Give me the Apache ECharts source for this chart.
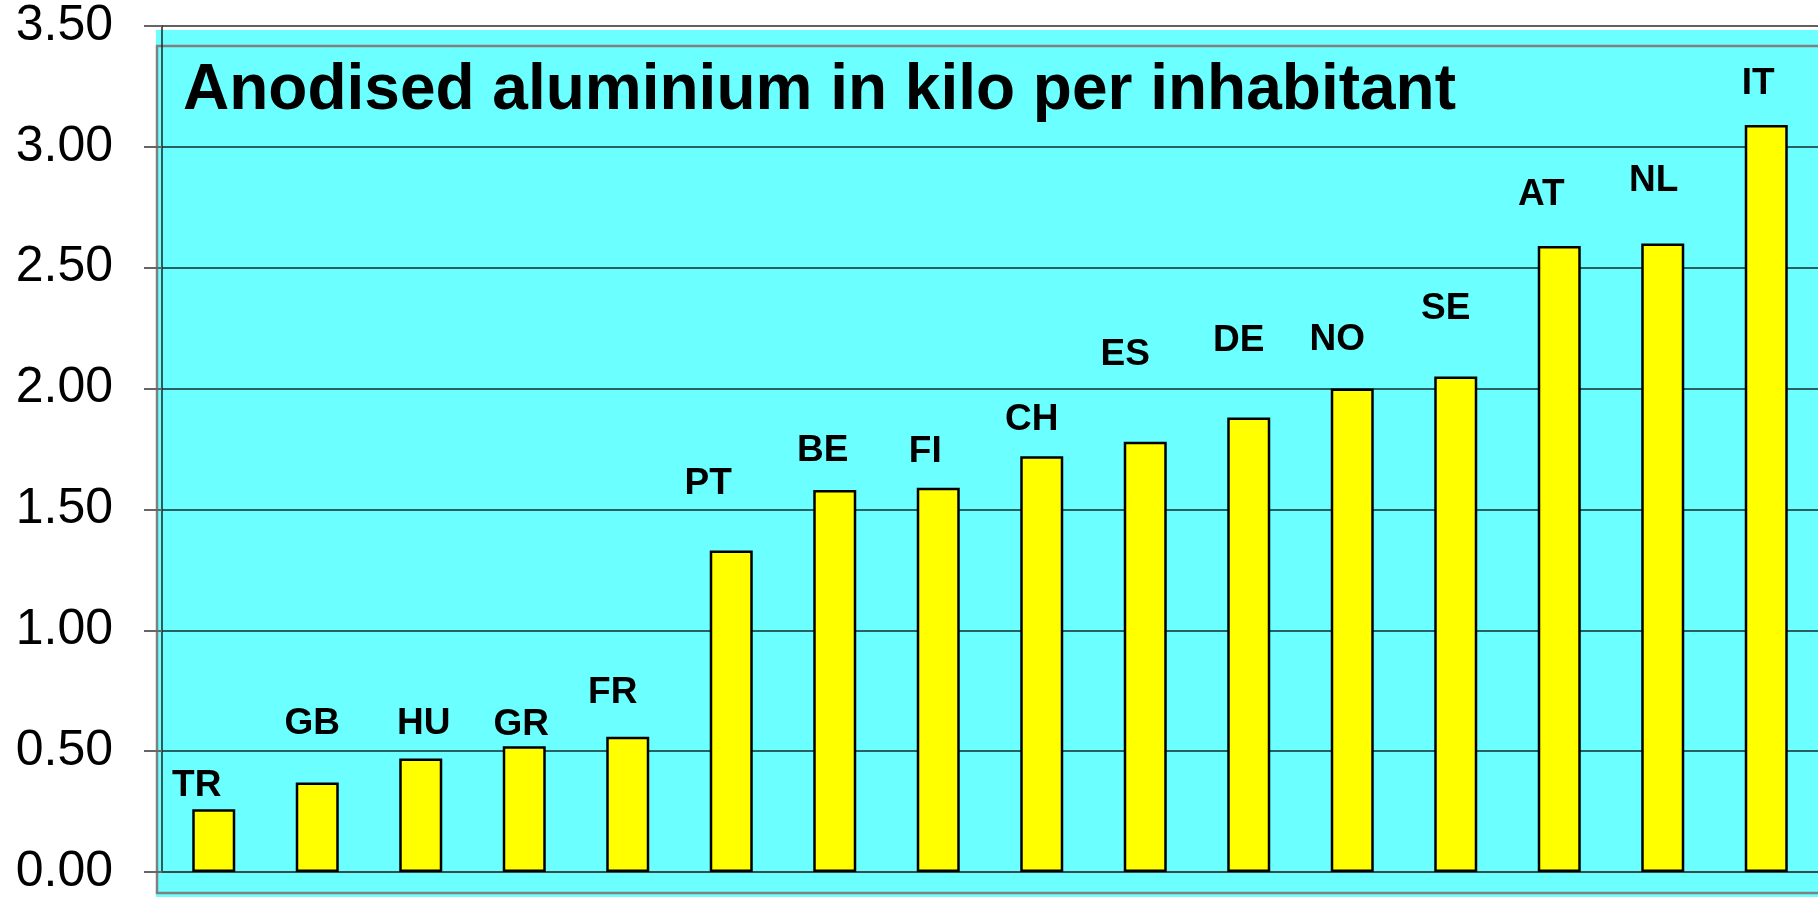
<!DOCTYPE html>
<html>
<head>
<meta charset="utf-8">
<title>Anodised aluminium</title>
<script src="https://cdn.jsdelivr.net/npm/echarts@6/dist/echarts.min.js"></script>
<style>
  html, body { margin: 0; padding: 0; background: #fff; }
  #chart { width: 1818px; height: 897px; }
</style>
</head>
<body>
<div id="chart"></div>
<script>
// data
var countries = ['TR', 'GB', 'HU', 'GR', 'FR', 'PT', 'BE', 'FI', 'CH', 'ES', 'DE', 'NO', 'SE', 'AT', 'NL', 'IT'];
var kiloPerInhabitant = [0.26, 0.37, 0.47, 0.52, 0.56, 1.33, 1.58, 1.59, 1.72, 1.78, 1.88, 2.00, 2.05, 2.59, 2.60, 3.09];
var yTicks = ['0.00', '0.50', '1.00', '1.50', '2.00', '2.50', '3.00', '3.50'];

// label placement (px): [shift x, gap above bar top to label centre]
var labelShift = [[-17, 23], [-5, 59], [3, 35], [-3, 22], [-15, 44], [-23, 67], [-12, 39], [-13, 36],
  [-10, 36], [-20, 87], [-10, 77], [-15, 49], [-10, 68], [-18, 51], [-9, 63], [-8, 41]];

var FONT = "'Liberation Sans', Arial, sans-serif";
var LABEL_H = 36;

var barData = kiloPerInhabitant.map(function(v, i) {
  return {
    value: v,
    label: { offset: [labelShift[i][0], LABEL_H / 2 - labelShift[i][1]] }
  };
});

var myChart = echarts.init(document.getElementById('chart'));
var option = {
  animation: false,
  backgroundColor: '#fff',
  graphic: [
    { type: 'rect', z: -10, shape: { x: 156, y: 30, width: 1670, height: 870 }, style: { fill: '#6cffff' } },
    { type: 'rect', z: -9, shape: { x: 157, y: 46, width: 1670, height: 847 }, style: { fill: 'none', stroke: '#808080', lineWidth: 2.5 } },
    {
      type: 'text', z: 10, x: 183, y: 91,
      style: { text: 'Anodised aluminium in kilo per inhabitant', font: 'bold 64px ' + FONT, fill: '#000', verticalAlign: 'middle' }
    }
  ],
  grid: { left: 162, right: 0, top: 26, bottom: 23 },
  xAxis: {
    type: 'category',
    data: countries,
    offset: 4,
    axisLine: { lineStyle: { color: '#3c4c4c', width: 2 } },
    axisTick: { interval: 0, length: 8, lineStyle: { color: '#222', width: 1.5 } },
    axisLabel: { show: false }
  },
  yAxis: {
    type: 'value',
    min: 0,
    max: 3.5,
    interval: 0.5,
    axisLine: { show: true, lineStyle: { color: '#222', width: 1.5 } },
    axisTick: { show: true, length: 18, lineStyle: { color: '#666', width: 2 } },
    axisLabel: {
      margin: 49,
      fontSize: 50,
      fontFamily: FONT,
      color: '#000',
      padding: [4, 0, 0, 0],
      formatter: function(v) { return yTicks[Math.round(v / 0.5)]; }
    },
    splitLine: { lineStyle: { color: 'rgba(0,0,0,0.62)', width: 2 } }
  },
  series: [{
    type: 'bar',
    data: barData,
    barWidth: 43,
    itemStyle: { color: '#ffff00', borderColor: '#000', borderWidth: 2.5 },
    label: {
      show: true,
      position: 'top',
      distance: 0,
      formatter: function(p) { return p.name; },
      fontSize: 37,
      lineHeight: LABEL_H,
      fontWeight: 'bold',
      fontFamily: FONT,
      color: '#000'
    }
  }]
};
myChart.setOption(option);
</script>
</body>
</html>
